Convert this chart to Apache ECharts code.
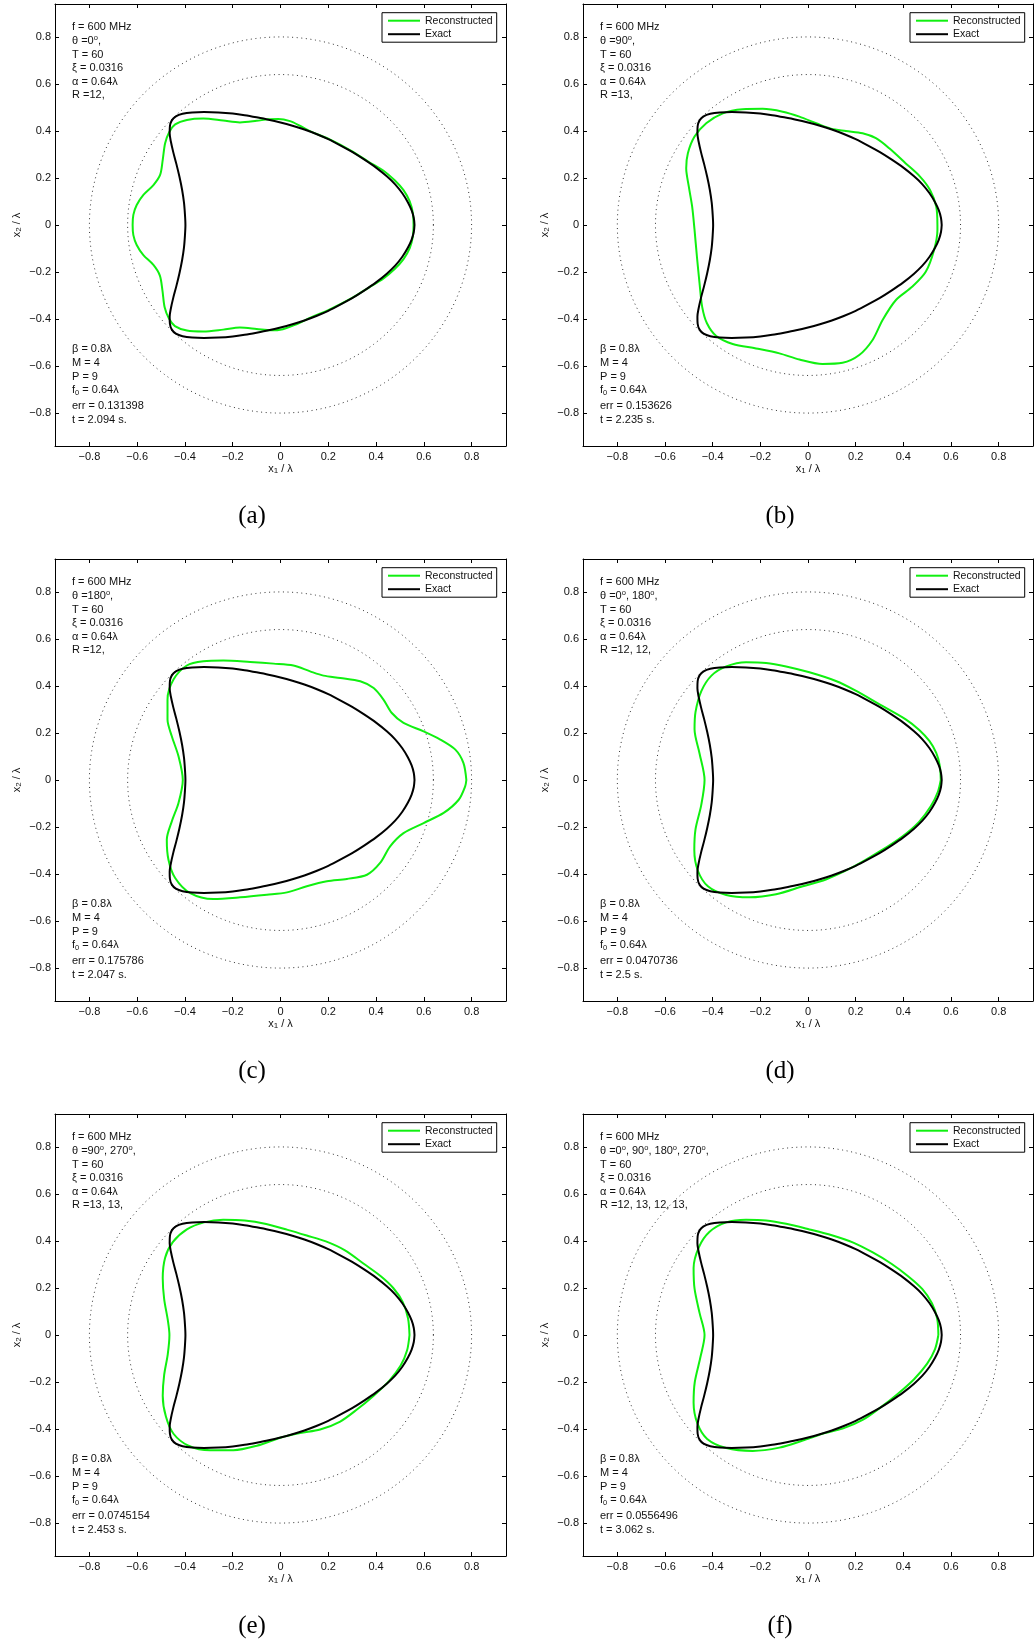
<!DOCTYPE html>
<html>
<head>
<meta charset="utf-8">
<script src="https://cdn.jsdelivr.net/npm/echarts@6/dist/echarts.min.js"></script>
<style>
  html, body { margin: 0; padding: 0; background: #fff; }
  #fig { width: 1034px; height: 1640px; }
</style>
</head>
<body>
<div id="fig"></div>
<script>
// tick values shared by both axes of every panel
var tickValues = [-0.8, -0.6, -0.4, -0.2, 0, 0.2, 0.4, 0.6, 0.8];
// dotted reference circles (alpha and beta radii)
var circleRadii = [0.64, 0.8];

// exact contour, same in every panel
var exactCurve = [
  [0.561, 0.000], [0.558, 0.030], [0.549, 0.062], [0.533, 0.097], [0.510, 0.135], [0.480, 0.173],
  [0.445, 0.207], [0.400, 0.244], [0.350, 0.279], [0.300, 0.311], [0.250, 0.339], [0.200, 0.365],
  [0.150, 0.387], [0.100, 0.406], [0.050, 0.422], [0.000, 0.436], [-0.050, 0.448], [-0.100, 0.458],
  [-0.150, 0.467], [-0.200, 0.474], [-0.260, 0.479], [-0.320, 0.481], [-0.370, 0.479], [-0.410, 0.473],
  [-0.438, 0.462], [-0.455, 0.445], [-0.463, 0.420], [-0.464, 0.390], [-0.459, 0.355], [-0.449, 0.310],
  [-0.436, 0.260], [-0.423, 0.205], [-0.412, 0.150], [-0.404, 0.095], [-0.400, 0.045], [-0.398, 0.000],
  [-0.400, -0.045], [-0.404, -0.095], [-0.412, -0.150], [-0.423, -0.205], [-0.436, -0.260], [-0.449, -0.310],
  [-0.459, -0.355], [-0.464, -0.390], [-0.463, -0.420], [-0.455, -0.445], [-0.438, -0.462], [-0.410, -0.473],
  [-0.370, -0.479], [-0.320, -0.481], [-0.260, -0.479], [-0.200, -0.474], [-0.150, -0.467], [-0.100, -0.458],
  [-0.050, -0.448], [0.000, -0.436], [0.050, -0.422], [0.100, -0.406], [0.150, -0.387], [0.200, -0.365],
  [0.250, -0.339], [0.300, -0.311], [0.350, -0.279], [0.400, -0.244], [0.445, -0.207], [0.480, -0.173],
  [0.510, -0.135], [0.533, -0.097], [0.549, -0.062], [0.558, -0.030], [0.561, 0.000]
];

// reconstructed contours, one per panel
var reconA = [
  [0.557, 0.000], [0.554, 0.050], [0.541, 0.100], [0.515, 0.148], [0.478, 0.190], [0.430, 0.232],
  [0.370, 0.268], [0.300, 0.313], [0.200, 0.367], [0.130, 0.396], [0.085, 0.420], [0.040, 0.442],
  [-0.010, 0.451], [-0.050, 0.450], [-0.100, 0.443], [-0.170, 0.436], [-0.240, 0.444], [-0.323, 0.453],
  [-0.392, 0.447], [-0.441, 0.428], [-0.465, 0.397], [-0.483, 0.348], [-0.493, 0.277], [-0.504, 0.213],
  [-0.532, 0.170], [-0.574, 0.128], [-0.602, 0.085], [-0.616, 0.043], [-0.619, 0.000], [-0.616, -0.043],
  [-0.602, -0.085], [-0.574, -0.128], [-0.532, -0.170], [-0.505, -0.215], [-0.494, -0.280], [-0.485, -0.350],
  [-0.467, -0.398], [-0.442, -0.430], [-0.392, -0.449], [-0.323, -0.453], [-0.240, -0.445], [-0.170, -0.436],
  [-0.100, -0.442], [-0.040, -0.448], [0.010, -0.443], [0.060, -0.425], [0.130, -0.392], [0.200, -0.362],
  [0.300, -0.310], [0.370, -0.266], [0.430, -0.228], [0.478, -0.187], [0.515, -0.145], [0.541, -0.098],
  [0.554, -0.049], [0.557, 0.000]
];
var reconB = [
  [0.543, 0.000], [0.538, 0.078], [0.512, 0.149], [0.470, 0.206], [0.410, 0.262], [0.341, 0.326],
  [0.285, 0.369], [0.229, 0.390], [0.159, 0.400], [0.096, 0.410], [0.034, 0.433], [-0.036, 0.461],
  [-0.106, 0.482], [-0.190, 0.494], [-0.274, 0.492], [-0.357, 0.475], [-0.427, 0.433], [-0.476, 0.376],
  [-0.504, 0.305], [-0.511, 0.241], [-0.500, 0.163], [-0.486, 0.078], [-0.476, -0.021], [-0.466, -0.135],
  [-0.455, -0.248], [-0.444, -0.348], [-0.424, -0.418], [-0.385, -0.472], [-0.316, -0.506], [-0.218, -0.525],
  [-0.120, -0.546], [-0.036, -0.572], [0.061, -0.591], [0.145, -0.586], [0.215, -0.553], [0.271, -0.489],
  [0.313, -0.404], [0.369, -0.319], [0.438, -0.262], [0.494, -0.199], [0.529, -0.106], [0.543, -0.021],
  [0.543, 0.000]
];
var reconC = [
  [0.778, 0.000], [0.766, 0.072], [0.732, 0.129], [0.669, 0.172], [0.599, 0.207], [0.515, 0.243],
  [0.466, 0.285], [0.431, 0.342], [0.390, 0.391], [0.334, 0.420], [0.250, 0.434], [0.180, 0.444],
  [0.124, 0.462], [0.054, 0.487], [-0.029, 0.495], [-0.127, 0.502], [-0.239, 0.508], [-0.323, 0.505],
  [-0.392, 0.487], [-0.448, 0.427], [-0.473, 0.342], [-0.473, 0.257], [-0.455, 0.186], [-0.427, 0.101],
  [-0.409, 0.000], [-0.427, -0.098], [-0.455, -0.176], [-0.476, -0.254], [-0.469, -0.339], [-0.441, -0.417],
  [-0.378, -0.481], [-0.281, -0.506], [-0.169, -0.499], [-0.057, -0.488], [0.027, -0.478], [0.110, -0.452],
  [0.194, -0.431], [0.278, -0.421], [0.362, -0.403], [0.417, -0.353], [0.459, -0.282], [0.515, -0.226],
  [0.599, -0.183], [0.683, -0.140], [0.746, -0.084], [0.773, -0.027], [0.778, 0.000]
];
var reconD = [
  [0.557, 0.000], [0.553, 0.060], [0.538, 0.115], [0.510, 0.165], [0.468, 0.212], [0.410, 0.258],
  [0.300, 0.322], [0.200, 0.380], [0.117, 0.421], [0.006, 0.458], [-0.092, 0.483], [-0.176, 0.498],
  [-0.260, 0.501], [-0.343, 0.483], [-0.406, 0.443], [-0.448, 0.377], [-0.472, 0.289], [-0.476, 0.216],
  [-0.455, 0.113], [-0.434, 0.000], [-0.448, -0.107], [-0.472, -0.210], [-0.477, -0.298], [-0.462, -0.386],
  [-0.420, -0.452], [-0.343, -0.489], [-0.246, -0.499], [-0.134, -0.486], [-0.022, -0.452], [0.075, -0.423],
  [0.187, -0.371], [0.299, -0.305], [0.397, -0.239], [0.466, -0.178], [0.515, -0.112], [0.545, -0.050],
  [0.557, 0.000]
];
var reconE = [
  [0.540, 0.000], [0.534, 0.070], [0.512, 0.140], [0.472, 0.200], [0.420, 0.250], [0.350, 0.302],
  [0.270, 0.360], [0.190, 0.398], [0.110, 0.423], [0.030, 0.447], [-0.060, 0.472], [-0.150, 0.487],
  [-0.240, 0.490], [-0.320, 0.479], [-0.392, 0.449], [-0.451, 0.395], [-0.483, 0.329], [-0.493, 0.241],
  [-0.487, 0.153], [-0.472, 0.065], [-0.465, 0.000], [-0.472, -0.082], [-0.487, -0.170], [-0.493, -0.258],
  [-0.480, -0.346], [-0.448, -0.420], [-0.385, -0.471], [-0.295, -0.490], [-0.197, -0.490], [-0.099, -0.471],
  [-0.001, -0.437], [0.082, -0.417], [0.166, -0.402], [0.250, -0.368], [0.320, -0.317], [0.390, -0.258],
  [0.455, -0.195], [0.503, -0.130], [0.530, -0.065], [0.540, 0.000]
];
var reconF = [
  [0.547, 0.000], [0.542, 0.070], [0.520, 0.135], [0.480, 0.195], [0.420, 0.250], [0.350, 0.303],
  [0.270, 0.352], [0.190, 0.393], [0.100, 0.424], [0.006, 0.449], [-0.092, 0.473], [-0.176, 0.487],
  [-0.260, 0.490], [-0.343, 0.479], [-0.413, 0.439], [-0.458, 0.373], [-0.480, 0.285], [-0.476, 0.197],
  [-0.455, 0.094], [-0.434, 0.000], [-0.452, -0.097], [-0.475, -0.200], [-0.480, -0.288], [-0.464, -0.376],
  [-0.423, -0.442], [-0.343, -0.481], [-0.232, -0.493], [-0.120, -0.479], [-0.022, -0.449], [0.061, -0.420],
  [0.145, -0.398], [0.229, -0.361], [0.306, -0.307], [0.376, -0.251], [0.445, -0.188], [0.500, -0.122],
  [0.533, -0.060], [0.547, 0.000]
];
var reconCurves = [reconA, reconB, reconC, reconD, reconE, reconF];

// per-panel annotations
var panelLabels = ['(a)', '(b)', '(c)', '(d)', '(e)', '(f)'];
var panelAngles = [['0'], ['90'], ['180'], ['0', '180'], ['90', '270'], ['0', '90', '180', '270']];
var panelR = ['12,', '13,', '12,', '12, 12,', '13, 13,', '12, 13, 12, 13,'];
var panelErr = ['0.131398', '0.153626', '0.175786', '0.0470736', '0.0745154', '0.0556496'];
var panelTime = ['2.094', '2.235', '2.047', '2.5', '2.453', '3.062'];

var FONT = 'Liberation Sans, Arial, Helvetica, sans-serif';
var GREEN = '#10f010';
var colLeft = [55, 583], colWidth = [451, 450];
var rowTop = [4, 559, 1114], rowHeight = 442;
var xLim = 0.944, yLim = 0.940;

function fmtTick(v) {
  if (Math.abs(v) < 1e-9) return '0';
  return (v < 0 ? '\u2212' : '') + Math.abs(v).toFixed(1);
}

function circlePoints(r) {
  var pts = [];
  for (var k = 0; k <= 240; k++) {
    var a = k / 240 * 2 * Math.PI;
    pts.push([r * Math.cos(a), r * Math.sin(a)]);
  }
  return pts;
}

var txt = {
  n: { fontSize: 11, fontFamily: FONT, fontWeight: 'normal', color: '#111', lineHeight: 13.6 },
  s: { fontSize: 7.5, fontFamily: FONT, fontWeight: 'normal', color: '#111', lineHeight: 5.6, verticalAlign: 'top' },
  b: { fontSize: 7.5, fontFamily: FONT, fontWeight: 'normal', color: '#111', lineHeight: 3.3, verticalAlign: 'bottom' }
};
var nameRich = {
  i: { fontSize: 11, fontFamily: FONT, fontWeight: 'normal', color: '#111', lineHeight: 13 },
  b: { fontSize: 8, fontFamily: FONT, fontWeight: 'normal', color: '#111', lineHeight: 2, verticalAlign: 'bottom' }
};

function axisBase(gridIndex, pos, lim, labelled) {
  return {
    gridIndex: gridIndex, type: 'value', position: pos, min: -lim, max: lim,
    splitLine: { show: false },
    axisLine: { show: true, onZero: false, lineStyle: { color: '#000', width: 1 } },
    axisTick: { show: true, inside: true, length: 4, customValues: tickValues, lineStyle: { color: '#000', width: 1 } },
    axisLabel: {
      show: labelled, customValues: tickValues, formatter: fmtTick,
      fontSize: 11, fontFamily: FONT, color: '#111', margin: (pos === 'left' ? 4 : 5)
    }
  };
}

var grids = [], xAxes = [], yAxes = [], series = [], legends = [], titles = [], graphics = [];

for (var i = 0; i < 6; i++) {
  var c = i % 2, r = Math.floor(i / 2);
  var L = colLeft[c], T = rowTop[r], W = colWidth[c], H = rowHeight, B = T + H;
  grids.push({ left: L, top: T, width: W, height: H, show: false });

  var xb = axisBase(i, 'bottom', xLim, true);
  xb.name = '{i|x}{b|1}{i| / \u03bb}';
  xb.nameLocation = 'middle';
  xb.nameGap = 16;
  xb.nameTextStyle = { rich: nameRich };
  xAxes.push(xb, axisBase(i, 'top', xLim, false));

  var yl = axisBase(i, 'left', yLim, true);
  yl.name = '{i|x}{b|2}{i| / \u03bb}';
  yl.nameLocation = 'middle';
  yl.nameRotate = 90;
  yl.nameGap = 32;
  yl.nameTextStyle = { rich: nameRich };
  yAxes.push(yl, axisBase(i, 'right', yLim, false));

  circleRadii.forEach(function (rad) {
    series.push({
      type: 'line', xAxisIndex: 2 * i, yAxisIndex: 2 * i, data: circlePoints(rad),
      symbol: 'none', silent: true, z: 1,
      lineStyle: { color: '#333', width: 1, type: [1, 3.6] }
    });
  });
  series.push({
    name: 'Reconstructed', type: 'line', xAxisIndex: 2 * i, yAxisIndex: 2 * i,
    data: reconCurves[i], smooth: 0.3, symbol: 'none', z: 2,
    itemStyle: { color: GREEN }, lineStyle: { color: GREEN, width: 2 }
  });
  series.push({
    name: 'Exact', type: 'line', xAxisIndex: 2 * i, yAxisIndex: 2 * i,
    data: exactCurve, smooth: 0.3, symbol: 'none', z: 3,
    itemStyle: { color: '#000' }, lineStyle: { color: '#000', width: 2 }
  });

  legends.push({
    left: (c === 0 ? 382 : 910), top: T + 8.7, orient: 'vertical',
    data: ['Reconstructed', 'Exact'], selectedMode: false,
    icon: 'rect', itemWidth: 32, itemHeight: 2, itemGap: 1.5,
    padding: [2, 4, 2, 6], borderColor: '#000', borderWidth: 1, backgroundColor: '#fff',
    textStyle: { fontSize: 10.5, fontFamily: FONT, color: '#111', lineHeight: 12 }
  });

  var theta = '{n|\u03b8 =}' + panelAngles[i].map(function (a) {
    return '{n|' + a + '}{s|o}{n|,}';
  }).join('{n| }');
  titles.push({
    left: L + 17, top: T + 16.5, padding: 0,
    text: ['{n|f = 600 MHz}', theta, '{n|T = 60}', '{n|\u03be = 0.0316}',
           '{n|\u03b1 = 0.64\u03bb}', '{n|R =' + panelR[i] + '}'].join('\n'),
    textStyle: { fontWeight: 'normal', rich: txt }
  });
  titles.push({
    left: L + 17, top: B - 103.5, padding: 0,
    text: ['{n|\u03b2 = 0.8\u03bb}', '{n|M = 4}', '{n|P = 9}', '{n|f}{b|0}{n| = 0.64\u03bb}'].join('\n'),
    textStyle: { fontWeight: 'normal', rich: txt }
  });
  titles.push({
    left: L + 17, top: B - 46.6, padding: 0,
    text: ['{n|err = ' + panelErr[i] + '}', '{n|t = ' + panelTime[i] + ' s.}'].join('\n'),
    textStyle: { fontWeight: 'normal', rich: txt }
  });

  graphics.push({
    type: 'text', x: (c === 0 ? 252 : 780), y: T + 512,
    style: {
      text: panelLabels[i], font: '25px "Liberation Serif", "Times New Roman", serif',
      fill: '#000', textAlign: 'center', textVerticalAlign: 'middle', align: 'center', verticalAlign: 'middle'
    }
  });
}

var myChart = echarts.init(document.getElementById('fig'), null, { renderer: 'canvas' });
myChart.setOption({
  animation: false,
  backgroundColor: '#fff',
  grid: grids,
  xAxis: xAxes,
  yAxis: yAxes,
  legend: legends,
  title: titles,
  graphic: graphics,
  series: series
});
</script>
</body>
</html>
